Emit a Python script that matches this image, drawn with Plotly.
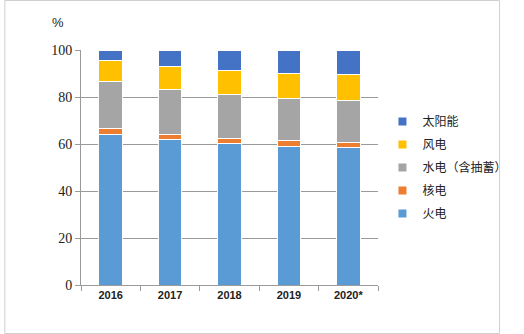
import plotly.graph_objects as go

years = ["2016", "2017", "2018", "2019", "2020*"]
series_names = ["火电", "核电", "水电（含抽蓄）", "风电", "太阳能"]
thermal = [64.2, 62.0, 60.2, 59.1, 58.4]
nuclear = [2.2, 2.1, 2.2, 2.6, 2.4]
hydro = [20.1, 19.3, 18.8, 17.8, 17.6]
wind = [8.9, 9.4, 9.9, 10.4, 11.1]
solar = [4.6, 7.2, 8.9, 10.1, 10.5]
colors = ["#5B9BD5", "#ED7D31", "#A5A5A5", "#FFC000", "#4472C4"]
y_ticks = [0, 20, 40, 60, 80, 100]

W, H = 524, 334
ML, MR, MT, MB = 81, 129, 50, 49
PW, PH = W - ML - MR, H - MT - MB

fig = go.Figure()
for name, vals, col in zip(series_names, [thermal, nuclear, hydro, wind, solar], colors):
    fig.add_trace(go.Bar(
        x=years, y=vals, name=name, marker=dict(color=col, line=dict(color="white", width=1)),
        width=0.4, showlegend=False, hoverinfo="skip"))
# legend entries: top item is the top segment (太阳能)
for i, (name, col) in enumerate(zip(series_names[::-1], colors[::-1])):
    fig.add_trace(go.Scatter(
        x=[None], y=[None], mode="markers", name=name, legendgroup=f"g{i}",
        marker=dict(symbol="square", size=8, color=col), showlegend=True))

grid_col = "#9A9A9A"
fig.update_layout(
    width=W, height=H, barmode="stack", bargap=0.6,
    margin=dict(l=ML, r=MR, t=MT, b=MB, pad=0),
    plot_bgcolor="white", paper_bgcolor="white",
    font=dict(family="Noto Sans CJK SC", color="#000000"),
    xaxis=dict(type="category", showgrid=False, showline=True, linecolor=grid_col, linewidth=1,
               ticks="outside", tickson="boundaries", ticklen=5, tickcolor=grid_col,
               tickfont=dict(family="Liberation Sans", size=11, color="#222222", weight="bold")),
    yaxis=dict(range=[0, 100], tickvals=y_ticks, showgrid=True, gridcolor=grid_col, gridwidth=1,
               showline=True, linecolor=grid_col, linewidth=1, zeroline=False,
               ticks="outside", ticklen=5, tickcolor=grid_col,
               tickfont=dict(family="Liberation Serif", size=14, color="#222222")),
    legend=dict(x=1.015, xanchor="left", y=0.5, yanchor="middle", traceorder="grouped",
                tracegroupgap=4, font=dict(family="Noto Sans CJK SC", size=12, color="#222222"),
                itemwidth=30, bgcolor="rgba(0,0,0,0)"),
    annotations=[dict(text="%", xref="paper", yref="paper", x=(57 - ML) / PW, y=1 + (MT - 22) / PH,
                      showarrow=False, xanchor="center", yanchor="middle",
                      font=dict(family="Liberation Sans", size=13, color="#222222"))],
    shapes=[dict(type="rect", xref="paper", yref="paper",
                 x0=(0.5 - ML) / PW, x1=(W - 0.5 - ML) / PW,
                 y0=-(MB - 0.5) / PH, y1=1 + (MT - 0.5) / PH,
                 line=dict(color="#D0D0D0", width=1), fillcolor="rgba(0,0,0,0)")],
)

fig.write_html("out.html")
